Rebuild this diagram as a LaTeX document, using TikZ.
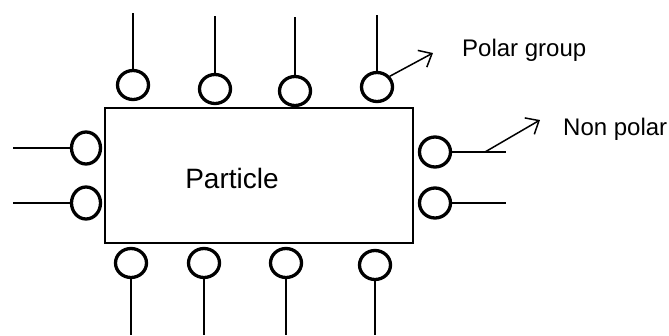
\documentclass[tikz,border=0pt]{standalone}
\usepackage{fontspec}
\setmainfont{Liberation Sans}
\usetikzlibrary{shapes.geometric,arrows.meta}
\begin{document}
\begin{tikzpicture}[x=1pt,y=-1pt,
  bead/.style={ellipse,draw=black,line width=3.3pt,fill=white,inner sep=0pt,minimum width=31pt,minimum height=29pt},
  tail/.style={line width=1.5pt},
  pointer/.style={line width=1.5pt,-{Straight Barb[length=11pt,width=19pt,line width=1.5pt]}},
  lbl/.style={font=\fontsize{24}{28}\selectfont,anchor=base west,inner sep=0pt}]
\useasboundingbox (0,0) rectangle (669,335);
\node (box) [draw,line width=2pt,minimum width=308pt,minimum height=135pt,inner sep=0pt] at (259,175.5) {};
\node [font=\fontsize{28}{32}\selectfont,anchor=base,inner sep=0pt] (ptext) at (232,188) {Particle};
% top beads
\node[bead] (t1) at (133,85) {};
\node[bead] (t2) at (215,89) {};
\node[bead] (t3) at (295,91) {};
\node[bead] (t4) at (377,87) {};
\coordinate (te1) at (133,13);
\coordinate (te2) at (215,16);
\coordinate (te3) at (295,17);
\coordinate (te4) at (377,15);
\draw[tail] (t1.north) -- (te1);
\draw[tail] (t2.north) -- (te2);
\draw[tail] (t3.north) -- (te3);
\draw[tail] (t4.north) -- (te4);
% bottom beads
\node[bead] (b1) at (131,263) {};
\node[bead] (b2) at (204,263) {};
\node[bead] (b3) at (286,263) {};
\node[bead] (b4) at (375,265) {};
\coordinate (be1) at (131,335);
\coordinate (be2) at (204,335);
\coordinate (be3) at (286,335);
\coordinate (be4) at (375,335);
\draw[tail] (b1.south) -- (be1);
\draw[tail] (b2.south) -- (be2);
\draw[tail] (b3.south) -- (be3);
\draw[tail] (b4.south) -- (be4);
% left beads
\node[bead,minimum width=29pt,minimum height=32pt] (l1) at (86,148) {};
\node[bead,minimum width=29pt,minimum height=32pt] (l2) at (86,203) {};
\coordinate (le1) at (13,148);
\coordinate (le2) at (13,203);
\draw[tail] (l1.west) -- (le1);
\draw[tail] (l2.west) -- (le2);
% right beads
\node[bead,minimum width=31pt,minimum height=30pt] (r1) at (435,152) {};
\node[bead,minimum width=31pt,minimum height=30pt] (r2) at (435,203) {};
\coordinate (re1) at (506,152);
\coordinate (re2) at (506,203);
\draw[tail] (r1.east) -- (re1);
\draw[tail] (r2.east) -- (re2);
% labels and pointers
\node[lbl] (polar) at (462,56) {Polar group};
\node[lbl] (nonpolar) at (563,135) {Non polar};
\coordinate (pa) at (433,53);
\draw[pointer] (t4.40) -- (pa);
\coordinate (ns) at (485,152);
\coordinate (na) at (540,120);
\draw[pointer] (ns) -- (na);
\end{tikzpicture}
\end{document}
